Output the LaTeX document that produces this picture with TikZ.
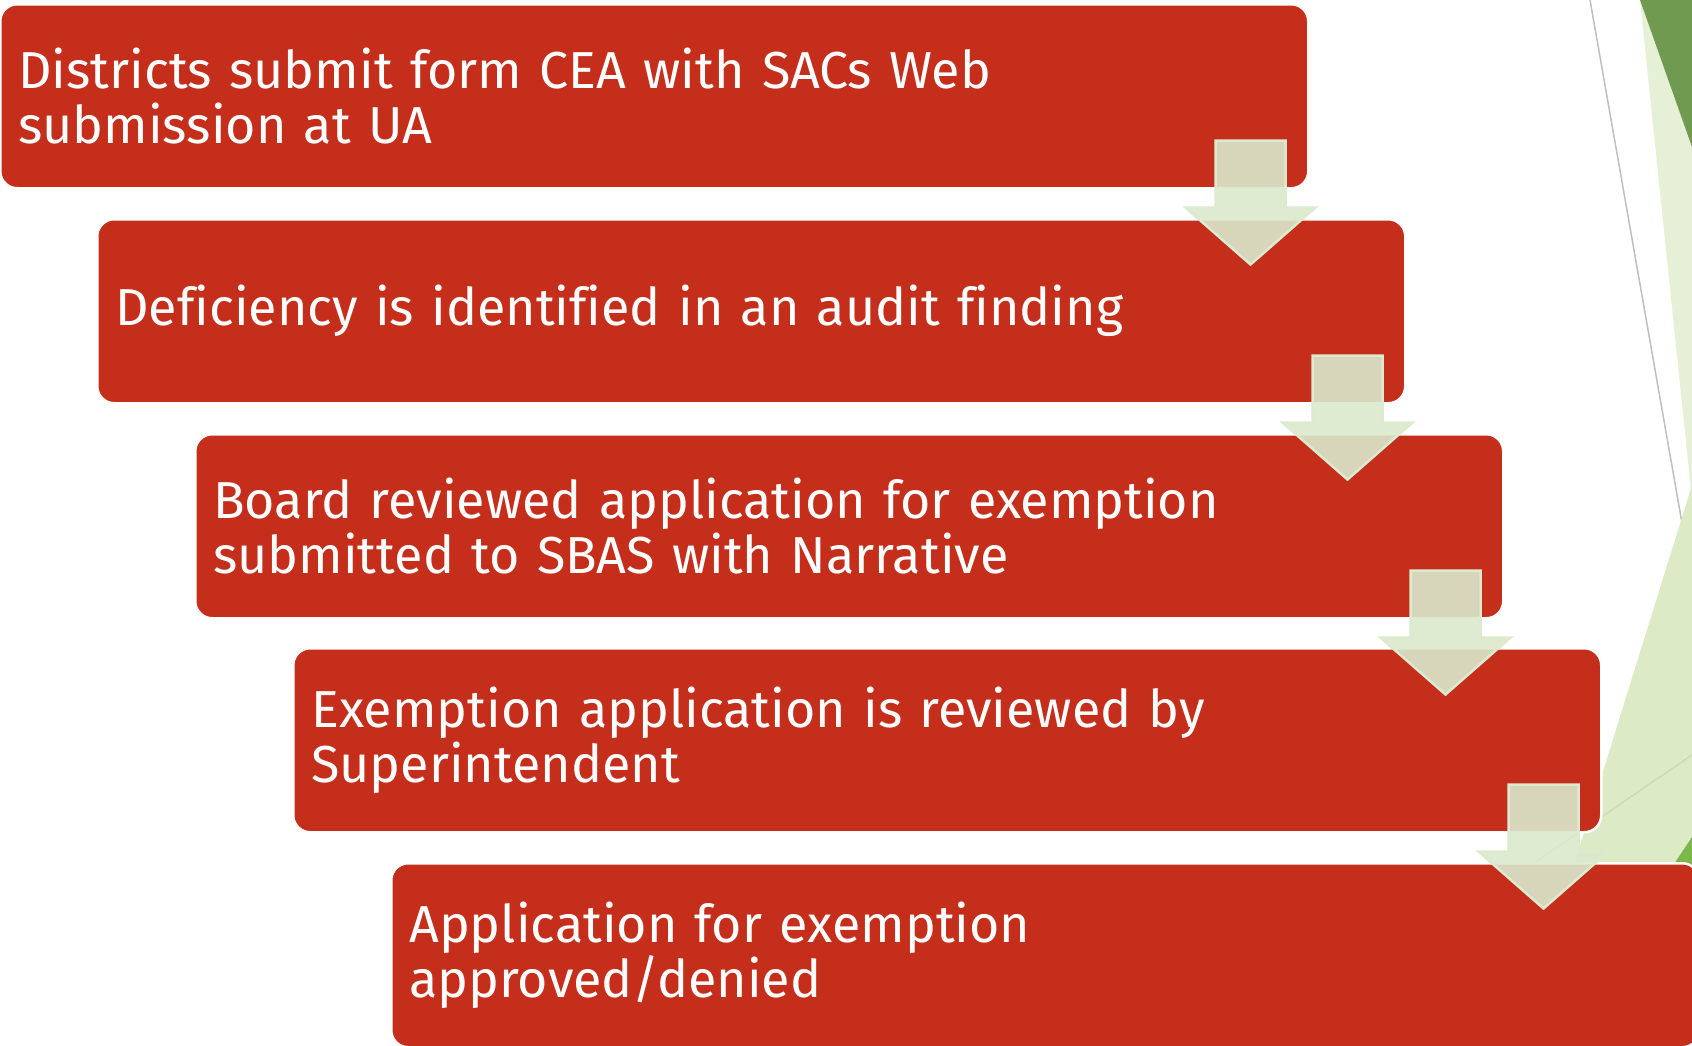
\documentclass[tikz,border=0pt]{standalone}
\usepackage{fontspec}
\setmainfont[Ligatures=NoCommon]{Fira Sans}
\usetikzlibrary{calc}

\definecolor{stepred}{HTML}{C42E1B}
\definecolor{arrowfill}{HTML}{DAE9CC}
\definecolor{arrowline}{HTML}{DCEACF}
\definecolor{darkgreen}{HTML}{6F9A4F}
\definecolor{palegreen}{HTML}{E6F0D7}
\definecolor{softgreen}{HTML}{DCEBC5}
\definecolor{midgreen}{HTML}{7CB74A}
\definecolor{edgegrey}{HTML}{BFBFBF}
\definecolor{seamgreen}{HTML}{C9DCB4}

\begin{document}
\begin{tikzpicture}[x=1pt, y=-1pt,
    stepbox/.style={rectangle, rounded corners=17pt, fill=stepred, draw=white, line width=2.5pt,
        text=white, anchor=north west, align=left, text width=1272pt, inner xsep=18pt,
        minimum height=184pt, font=\fontsize{52}{55}\selectfont},
    blockarrow/.style={fill=arrowfill, fill opacity=0.9, draw=arrowline, line width=2.5pt}]

\useasboundingbox (0,0) rectangle (1692,1045);
\clip (0,0) rectangle (1692,1045);

% Background facets
\draw[edgegrey, line width=1.5pt] (1590,0) -- (1692,580);
\fill[palegreen] (1640,0) -- (1692,0) -- (1692,500) -- cycle;
\fill[darkgreen] (1640,0) -- (1692,0) -- (1692,147) -- cycle;
\fill[softgreen] (1692,485) -- (1518,1045) -- (1692,1045) -- cycle;
\draw[seamgreen, line width=1.5pt] (1692,755) -- (1534,863);
\fill[midgreen] (1692,837) -- (1620,945) -- (1692,1045) -- cycle;

% Steps
\node[stepbox] (step1) at (-1,3) {Districts submit form CEA with SACs Web\\submission at UA};
\node[stepbox] (step2) at (96,218) {Deficiency is identified in an audit finding};
\node[stepbox] (step3) at (194,433) {Board reviewed application for exemption\\submitted to SBAS with Narrative};
\node[stepbox] (step4) at (292,647) {Exemption application is reviewed by\\Superintendent};
\node[stepbox] (step5) at (390,862) {Application for exemption\\approved/denied};

% Arrows
\foreach \a/\b in {step1/step2, step2/step3, step3/step4, step4/step5}
    \filldraw[blockarrow] ($(\a.south east)+(-94,-49)$) -- ++(70,0) -- ++(0,67) -- ++(30,0)
        -- ($(\a.south east)+(-59,75)$) -- ++(-65,-57) -- ++(30,0) -- cycle;

\end{tikzpicture}
\end{document}
